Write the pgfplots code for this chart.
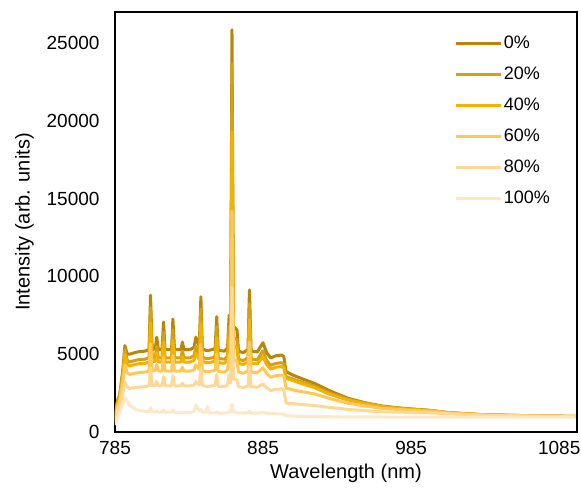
\documentclass[border=0pt]{standalone}
\usepackage{fontspec}
\setmainfont{Liberation Sans}
\usepackage{pgfplots}
\usepackage{pgfplotstable}
\pgfplotsset{compat=1.18}
\definecolor{c0}{RGB}{184,134,11}
\definecolor{c20}{RGB}{212,160,20}
\definecolor{c40}{RGB}{240,180,0}
\definecolor{c60}{RGB}{255,200,90}
\definecolor{c80}{RGB}{255,216,150}
\definecolor{c100}{RGB}{255,231,200}
\pgfplotstableread{
x y0 y20 y40 y60 y80 y100
785 900 850 800 700 600 450
786.6 2000 1900 1800 1600 1300 900
788.2 2400 2300 2200 2000 1700 1300
790.3 4000 3800 3600 3200 2500 1800
791.7 5550 5300 5000 4300 3200 2200
793.3 5000 4600 4350 3800 2900 2000
794.8 5000 4500 4250 3700 2800 1700
800.1 5150 4640 4380 3810 2880 1400
805.3 5200 4680 4420 3850 2910 1330
808.0 5300 4770 4500 3920 2970 1300
809.0 8800 7990 7020 5670 4125 1580
810.1 5300 4770 4500 3920 2970 1300
812.2 5350 4815 4550 3960 3000 1290
813.2 6100 5505 5090 4335 3250 1350
814.3 5300 4770 4500 3920 2970 1280
816.7 5300 4770 4500 3920 2970 1280
817.8 7070 6400 5775 4805 3555 1420
818.8 5300 4770 4500 3920 2970 1270
823.2 5300 4770 4500 3920 2970 1270
824.1 7260 6570 5910 4900 3620 1430
825.2 5300 4770 4500 3920 2970 1260
829.5 5300 4770 4500 3920 2970 1260
830.5 5780 5210 4845 4160 3130 1300
831.6 5300 4770 4500 3920 2970 1250
835.8 5300 4770 4500 3920 2970 1250
838.4 5450 4910 4610 4000 3020 1300
839.6 6100 5505 5080 4320 3235 1740
841.9 5500 4950 4640 4020 3040 1350
843.0 8700 7900 6950 5620 4090 1450
844.0 5350 4815 4550 3960 3000 1260
846.3 5250 4725 4460 3885 2940 1250
847.4 5250 4725 4460 3885 2940 1630
848.4 5250 4725 4460 3885 2940 1240
852.6 5350 4815 4550 3960 3000 1230
853.7 7410 6755 6070 5015 3700 1300
854.7 5250 4725 4460 3885 2940 1220
858.9 5200 4680 4420 3850 2910 1220
861.0 5400 4860 4590 4000 3020 1240
862.1 7520 6810 6090 5010 3675 1300
863.1 5800 5200 4900 4200 3150 1260
864.0 25850 23700 19300 14200 9300 1800
865.0 6800 6100 5600 4700 3400 1300
867.4 6560 5935 5395 4515 3345 1250
868.4 5200 4680 4420 3850 2910 1230
871.6 5100 4590 4335 3775 2855 1220
874.8 5300 4770 4505 3920 2970 1230
875.8 9130 8250 7210 5775 4180 1350
876.9 5200 4680 4420 3850 2910 1220
881.1 5150 4635 4380 3810 2880 1210
884.9 5740 5225 4840 4130 3090 1260
887.4 5100 4590 4335 3775 2855 1200
890.1 4760 4285 4045 3520 2665 1180
893.7 4900 4410 4165 3625 2745 1170
897.4 4950 4455 4210 3665 2770 1160
899.0 4850 4365 4120 3590 2715 1150
900.5 3880 3550 3450 2830 1860 1050
905.3 3650 3400 3300 2700 1820 1020
912 3400 3180 3080 2580 1760 1000
919.7 3130 2950 2850 2450 1700 990
930 2650 2500 2420 2150 1580 980
942.5 2160 2100 2050 1850 1450 975
954 1880 1850 1810 1670 1370 970
965.2 1670 1650 1620 1520 1300 965
980 1520 1500 1480 1420 1270 960
997 1400 1390 1380 1340 1230 960
1010 1250 1245 1240 1220 1170 960
1032 1120 1115 1110 1100 1080 960
1063 1050 1045 1045 1040 1030 960
1096 1000 1000 1000 1000 990 960
}\spec
\begin{document}
\begin{tikzpicture}
\begin{axis}[
  scale only axis,
  width=462pt, height=420pt,
  xmin=785, xmax=1097, ymin=0, ymax=27000,
  xtick={785,885,985,1085},
  ytick={0,5000,10000,15000,20000,25000},
  major tick length=0pt,
  axis line style={black, line width=1.4pt},
  /pgf/number format/assume math mode=true,
  /pgf/number format/1000 sep={},
  scaled y ticks=false,
  tick label style={font=\fontsize{19}{22}\selectfont},
  yticklabel style={xshift=-12pt},
  xticklabel style={yshift=-6pt},
  xlabel={Wavelength (nm)},
  ylabel={Intensity (arb. units)},
  label style={font=\fontsize{20}{24}\selectfont},
  xlabel style={yshift=-2pt},
  ylabel style={yshift=6pt},
  legend style={at={(rel axis cs:0.735,0.945)}, anchor=north west, draw=none, fill=none,
    font=\fontsize{18}{20}\selectfont, inner sep=0pt, row sep=15pt,
    nodes={inner xsep=1pt, inner ysep=0pt, text height=13pt, text depth=3pt}},
  legend cell align=left,
  legend image code/.code={\draw[#1, line width=3pt] (0pt,0pt) -- (45pt,0pt);},
  every axis plot/.append style={line width=3pt, line join=round},
]
\addplot[c0, no markers] table[x=x, y=y0] {\spec};
\addplot[c20, no markers] table[x=x, y=y20] {\spec};
\addplot[c40, no markers] table[x=x, y=y40] {\spec};
\addplot[c60, no markers] table[x=x, y=y60] {\spec};
\addplot[c80, no markers] table[x=x, y=y80] {\spec};
\addplot[c100, no markers] table[x=x, y=y100] {\spec};
\legend{0\%,20\%,40\%,60\%,80\%,100\%}
\coordinate (sw) at (rel axis cs:0,0);
\coordinate (ne) at (rel axis cs:1,1);
\end{axis}
\pgfresetboundingbox
\path ([shift={(-115pt,-66pt)}]sw) rectangle ([shift={(4pt,12pt)}]ne);
\end{tikzpicture}
\end{document}
